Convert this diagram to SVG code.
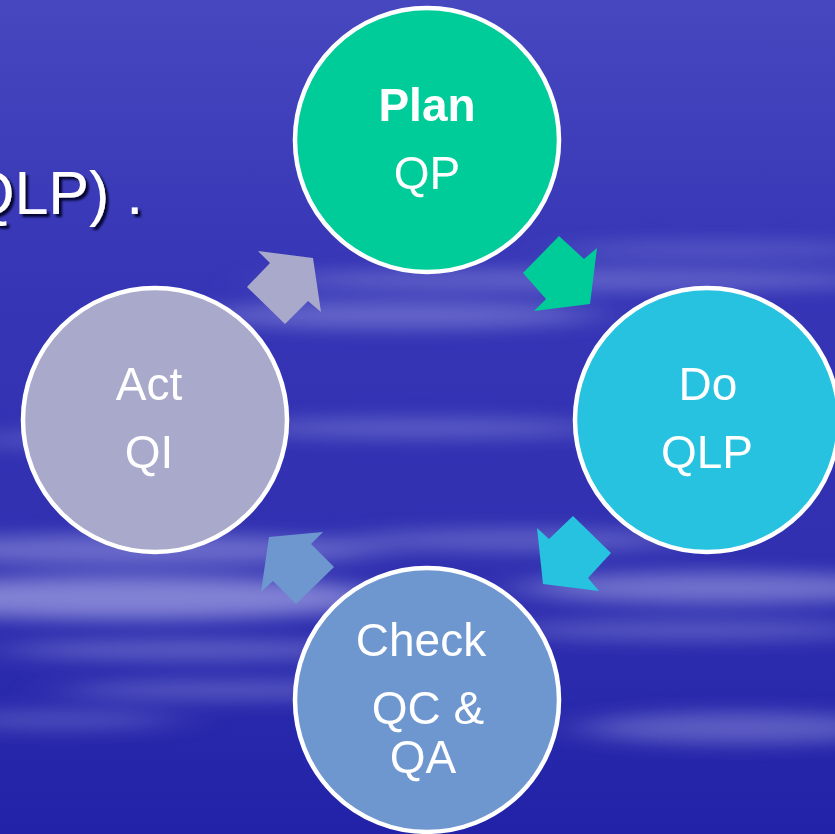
<svg xmlns="http://www.w3.org/2000/svg" width="835" height="834" viewBox="0 0 835 834">
<defs>
<linearGradient id="bg" x1="0" y1="0" x2="0" y2="1">
<stop offset="0" stop-color="#4747BF"/>
<stop offset="0.35" stop-color="#3535B6"/>
<stop offset="0.7" stop-color="#2F2FB0"/>
<stop offset="1" stop-color="#2222A8"/>
</linearGradient>
<filter id="blur" x="-30%" y="-300%" width="160%" height="700%">
<feGaussianBlur stdDeviation="30 9"/>
</filter>
<filter id="shadow" x="-10%" y="-10%" width="130%" height="130%">
<feDropShadow dx="3" dy="3" stdDeviation="1" flood-color="#000020" flood-opacity="0.9"/>
</filter>
<style>
.node circle{stroke:#FFFFFF;stroke-width:4.5}
.lbl{font-family:"Liberation Sans",Arial,sans-serif;font-size:46px;fill:#FFFFFF;text-anchor:middle}
.b{font-weight:bold}
.streak{fill:#C4C4F2}
</style>
</defs>
<rect width="835" height="834" fill="url(#bg)"/>
<g id="clouds" filter="url(#blur)">
<ellipse class="streak" cx="580" cy="280" rx="320" ry="10" opacity="0.35"/>
<ellipse class="streak" cx="400" cy="315" rx="200" ry="14" opacity="0.35"/>
<ellipse class="streak" cx="720" cy="250" rx="170" ry="8" opacity="0.25"/>
<ellipse class="streak" cx="420" cy="428" rx="190" ry="10" opacity="0.3"/>
<ellipse class="streak" cx="60" cy="440" rx="100" ry="8" opacity="0.25"/>
<ellipse class="streak" cx="140" cy="550" rx="240" ry="16" opacity="0.4"/>
<ellipse class="streak" cx="130" cy="598" rx="260" ry="22" opacity="0.55"/>
<ellipse class="streak" cx="190" cy="650" rx="190" ry="10" opacity="0.35"/>
<ellipse class="streak" cx="230" cy="690" rx="170" ry="10" opacity="0.3"/>
<ellipse class="streak" cx="720" cy="588" rx="200" ry="16" opacity="0.45"/>
<ellipse class="streak" cx="690" cy="630" rx="190" ry="10" opacity="0.3"/>
<ellipse class="streak" cx="740" cy="728" rx="160" ry="16" opacity="0.35"/>
<ellipse class="streak" cx="520" cy="540" rx="170" ry="12" opacity="0.3"/>
<ellipse class="streak" cx="60" cy="720" rx="120" ry="10" opacity="0.25"/>
</g>
<text x="-33" y="214" font-family="'Liberation Sans',Arial,sans-serif" font-size="61" fill="#FFFFFF" filter="url(#shadow)">QLP) .</text>
<g id="connectors">
<polygon fill="#00CC99" points="559,236 584,259 597,248 590,304 534,311 546,299 523,273"/>
<polygon fill="#27C2E0" points="573,516 611,553 588,578 599,591 543,584 537,528 549,539"/>
<polygon fill="#6E97D0" points="323,532 311,544 334,567 296,604 273,581 261,592 269,537"/>
<polygon fill="#A9A9CC" points="258,251 270,263 247,287 285,324 308,301 321,312 313,258"/>
</g>
<g id="plan" class="node">
<circle cx="427" cy="140" r="132" fill="#00CC99"/>
<text class="lbl b" x="427" y="121">Plan</text>
<text class="lbl" x="427" y="189">QP</text>
</g>
<g id="do" class="node">
<circle cx="707" cy="420" r="132" fill="#27C2E0"/>
<text class="lbl" x="708" y="400">Do</text>
<text class="lbl" x="707" y="468">QLP</text>
</g>
<g id="check" class="node">
<circle cx="427" cy="700" r="132" fill="#6E97D0"/>
<text class="lbl" x="421" y="656">Check</text>
<text class="lbl" x="428" y="724">QC &amp;</text>
<text class="lbl" x="423" y="773">QA</text>
</g>
<g id="act" class="node">
<circle cx="155" cy="420" r="132" fill="#A9A9CC"/>
<text class="lbl" x="149" y="400">Act</text>
<text class="lbl" x="149" y="468">QI</text>
</g>
</svg>
